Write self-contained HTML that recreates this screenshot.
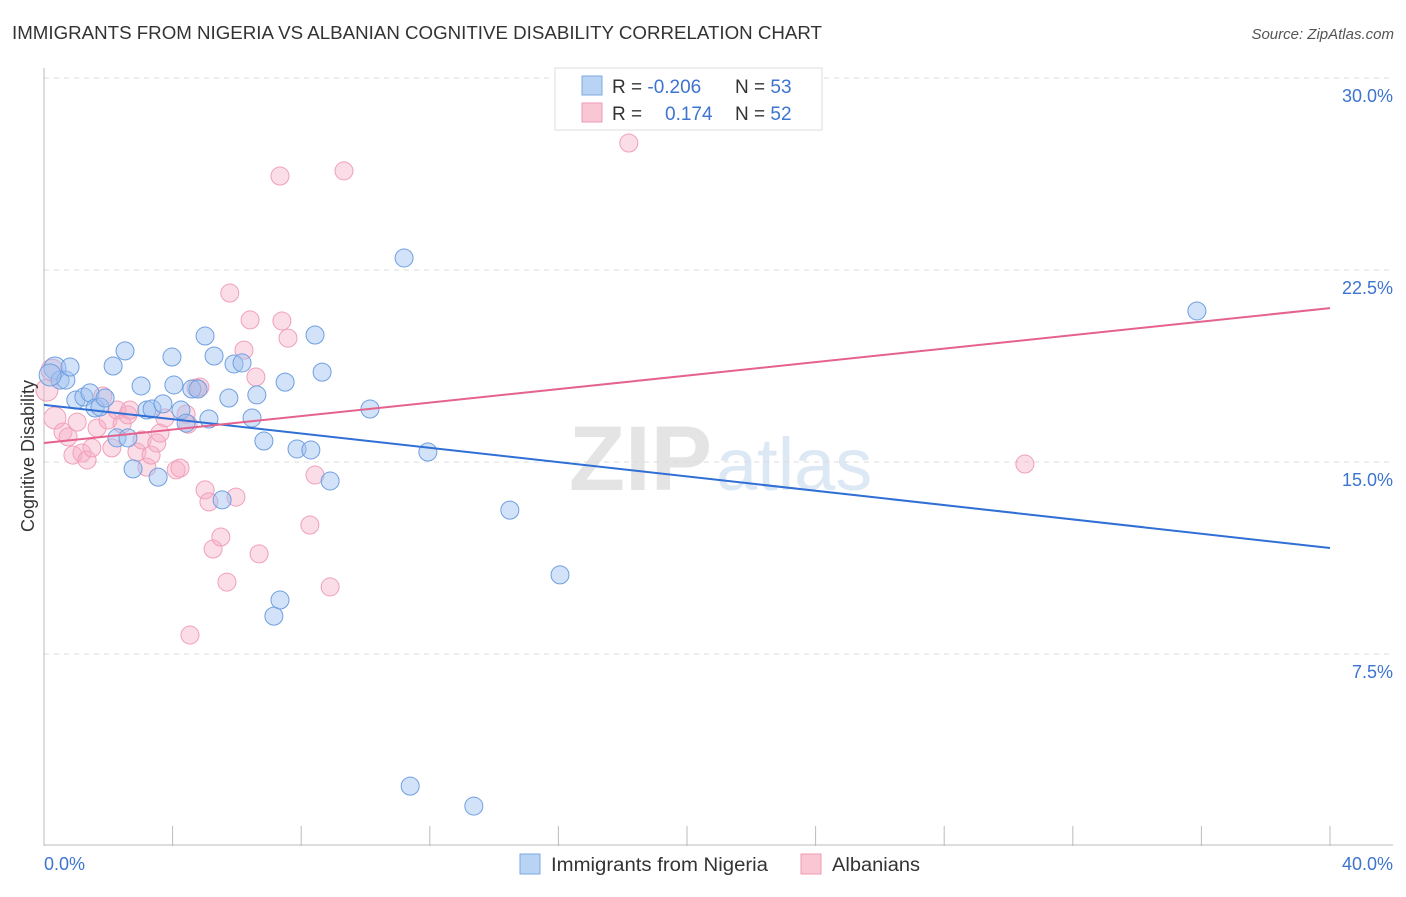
<!DOCTYPE html>
<html><head><meta charset="utf-8"><style>
body{margin:0;background:#fff;font-family:"Liberation Sans",sans-serif}
svg text{font-family:"Liberation Sans",sans-serif}
</style></head><body>
<svg id="chart" width="1406" height="892" viewBox="0 0 1406 892" xmlns="http://www.w3.org/2000/svg">
<text x="12" y="39" font-size="18" fill="#333" textLength="810" lengthAdjust="spacingAndGlyphs">IMMIGRANTS FROM NIGERIA VS ALBANIAN COGNITIVE DISABILITY CORRELATION CHART</text>
<text x="1394" y="39" font-size="15" fill="#555" text-anchor="end" font-style="italic">Source: ZipAtlas.com</text>
<text x="712" y="490" font-size="92" fill="#e4e4e4" text-anchor="end" font-family="Liberation Serif" font-weight="bold">ZIP</text>
<text x="716" y="490" font-size="74" fill="#dde8f5">atlas</text>
<g id="grid"></g>
<g id="axes"></g>
<g id="pts"></g>
<g id="lines"></g>
<text transform="translate(34,456) rotate(-90)" font-size="18" fill="#333" text-anchor="middle">Cognitive Disability</text>
<g>
<rect x="555" y="68" width="267" height="62" fill="#fff" stroke="#ddd"/>
<rect x="582" y="76" width="20" height="19" fill="#b9d3f5" stroke="#7aa7e3"/>
<rect x="582" y="103" width="20" height="19" fill="#f9c6d4" stroke="#ee9ab3"/>
<text x="612" y="93" font-size="19" fill="#333">R = <tspan fill="#3d74d0">-0.206</tspan></text>
<text x="735" y="93" font-size="19" fill="#333">N = <tspan fill="#3d74d0">53</tspan></text>
<text x="612" y="120" font-size="19" fill="#333">R = </text>
<text x="665" y="120" font-size="19" fill="#3d74d0">0.174</text>
<text x="735" y="120" font-size="19" fill="#333">N = <tspan fill="#3d74d0">52</tspan></text>
</g>
<g>
<rect x="520" y="854" width="20" height="20" fill="#b9d3f5" stroke="#7aa7e3"/>
<text x="551" y="871" font-size="19" fill="#333" textLength="217" lengthAdjust="spacingAndGlyphs">Immigrants from Nigeria</text>
<rect x="801" y="854" width="20" height="20" fill="#f9c6d4" stroke="#ee9ab3"/>
<text x="832" y="871" font-size="19" fill="#333" textLength="88" lengthAdjust="spacingAndGlyphs">Albanians</text>
</g>
</svg>
<script>
const yTicks=[7.5,15,22.5,30];
const yTickLabels=["7.5%","15.0%","22.5%","30.0%"];
const xTickLabels=["0.0%","40.0%"];
const blueX=[0.34,0.50,0.68,0.81,0.99,1.24,1.43,1.59,1.74,1.90,2.15,2.27,2.52,2.61,2.77,3.02,3.20,3.36,3.55,3.70,3.98,4.04,4.26,4.42,4.60,4.79,5.01,5.13,5.29,5.54,5.75,5.91,6.16,6.47,6.62,6.84,7.34,7.15,7.50,7.87,8.30,8.43,8.65,8.90,10.14,11.20,11.39,11.94,13.37,14.49,16.05,35.86,0.19];
const blueY=[18.67,18.20,18.20,18.71,17.42,17.54,17.70,17.11,17.15,17.50,18.75,15.94,19.34,15.94,14.73,17.97,17.03,17.07,14.41,17.27,19.10,18.01,17.03,16.52,17.85,17.85,19.92,16.68,19.14,13.52,17.50,18.83,18.87,16.72,17.62,15.82,9.61,8.98,18.12,15.51,15.47,19.96,18.51,14.26,17.07,22.97,2.34,15.39,1.56,13.12,10.59,20.90,18.40];
const pinkX=[0.09,0.25,0.34,0.59,0.75,0.90,1.03,1.18,1.34,1.49,1.65,1.83,1.99,2.11,2.27,2.43,2.61,2.67,2.89,3.05,3.20,3.33,3.51,3.61,3.76,4.11,4.23,4.42,4.48,4.73,4.85,5.01,5.13,5.26,5.50,5.69,5.78,5.97,6.22,6.41,6.59,6.69,7.34,7.40,7.59,8.27,8.43,8.90,9.33,18.19,30.51,4.54];
const pinkY=[17.81,18.59,16.72,16.17,15.98,15.27,16.56,15.35,15.08,15.55,16.33,17.58,16.64,15.55,17.03,16.48,16.84,17.03,15.39,15.86,14.80,15.27,15.74,16.13,16.72,14.69,14.76,16.87,16.48,17.89,17.93,13.91,13.44,11.60,12.07,10.31,21.60,13.63,19.37,20.55,18.32,11.41,26.17,20.51,19.84,12.54,14.49,10.12,26.37,27.46,14.92,8.24];
const blueTrend=[17.23,11.64];
const pinkTrend=[15.74,21.01];
const trendX=[0,40];

const NS="http://www.w3.org/2000/svg";
const X0=44,X1=1330,Y0=846;
function xs(v){return X0+v/40*(X1-X0);}
function ys(v){return Y0-v*192/7.5;}
function mk(tag,attrs,parent){const e=document.createElementNS(NS,tag);for(const k in attrs)e.setAttribute(k,attrs[k]);parent.appendChild(e);return e;}
const grid=document.getElementById('grid'),axes=document.getElementById('axes'),pts=document.getElementById('pts'),lines=document.getElementById('lines');
yTicks.forEach((t,i)=>{
 const l=mk('line',{x1:X0,x2:1393,y1:ys(t),y2:ys(t),stroke:'#ddd','stroke-dasharray':'5,5'},grid);
 
 
 const tx=mk('text',{x:1393,y:ys(t)+24,'font-size':18,fill:'#3d74d0','text-anchor':'end'},grid);
 tx.textContent=yTickLabels[i];
 
 
});
let a=mk('line',{x1:X0,x2:X0,y1:68,y2:Y0,stroke:'#bbb'},axes);


a=mk('line',{x1:X0,x2:1393,y1:Y0-1,y2:Y0-1,stroke:'#bbb'},axes);


for(let i=1;i<=10;i++){
 const t=mk('line',{x1:xs(i*4),x2:xs(i*4),y1:826,y2:Y0,stroke:'#bbb'},axes);
 
 
}
[[0,'start',X0],[1,'end',1393]].forEach(([i,anc,x])=>{
 const t=mk('text',{x:x,y:870,'font-size':18,fill:'#3d74d0','text-anchor':anc},axes);
 t.textContent=xTickLabels[i];
 
 
});
function draw(X,Y,fill,stroke,name){
 X.forEach((v,i)=>{
  const c=mk('circle',{cx:xs(v),cy:ys(Y[i]),r:(v<0.4?11:9),fill:fill,stroke:stroke,'stroke-width':1},pts);
  
  
 });
}
draw(pinkX,pinkY,'rgba(246,175,198,0.42)','#f0a0b9','albanian-point');
draw(blueX,blueY,'rgba(160,195,240,0.48)','#6f9fe0','nigeria-point');
let tl=mk('line',{x1:xs(trendX[0]),x2:xs(trendX[1]),y1:ys(blueTrend[0]),y2:ys(blueTrend[1]),stroke:'#2f6fd6','stroke-width':2},lines);


tl=mk('line',{x1:xs(trendX[0]),x2:xs(trendX[1]),y1:ys(pinkTrend[0]),y2:ys(pinkTrend[1]),stroke:'#e5628d','stroke-width':2},lines);


</script>
</body></html>
